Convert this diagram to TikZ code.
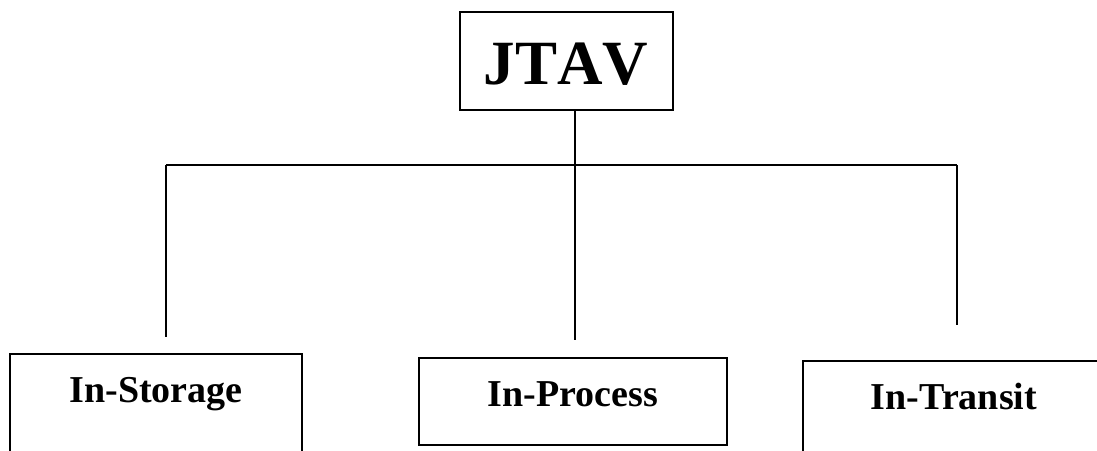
\documentclass[tikz,border=0pt]{standalone}
\usepackage{fontspec}
\setmainfont{Liberation Serif}
\newfontfamily\rootfont[Kerning=Off]{Liberation Serif}
\tikzset{
    rootbox/.style = {draw, line width=2pt, inner sep=0pt, anchor=north,
        minimum width=213pt, text height=72pt, text depth=26pt,
        font=\rootfont\fontsize{63}{65}\selectfont\bfseries},
    leafbox/.style = {draw, line width=2pt, inner sep=0pt, anchor=north,
        text height=48pt, font=\fontsize{38}{40}\selectfont\bfseries},
    branch/.style = {line width=2pt}
}
\begin{document}
\begin{tikzpicture}[x=1pt,y=-1pt]
    \useasboundingbox (0,0) rectangle (1097,450);
    \clip (0,0) rectangle (1097,450);

    \node[rootbox] (JTAV) at (566,11) {JTAV};
    \coordinate(Jb) at (575,165);

    \coordinate(Sb) at (166,165);
    \coordinate(Sn) at (166,337);
    \coordinate(Pn) at (575,340);
    \coordinate(Tb) at (957,165);
    \coordinate(Tn) at (957,325);

    \node[leafbox, minimum width=292pt, text depth=80pt] (Storage) at (156,353) {In-Storage};
    \node[leafbox, minimum width=308pt, text depth=39pt] (Process) at (573,357) {In-Process};
    \node[leafbox, minimum width=302pt, text depth=80pt] (Transit) at (954,360) {In-Transit};

    \draw [branch] (JTAV.south -| Jb)--(Jb)--(Pn);
    \draw [branch] (Sb)--(Tb);
    \draw [branch] (Sb)--(Sn);
    \draw [branch] (Tb)--(Tn);

\end{tikzpicture}
\end{document}
